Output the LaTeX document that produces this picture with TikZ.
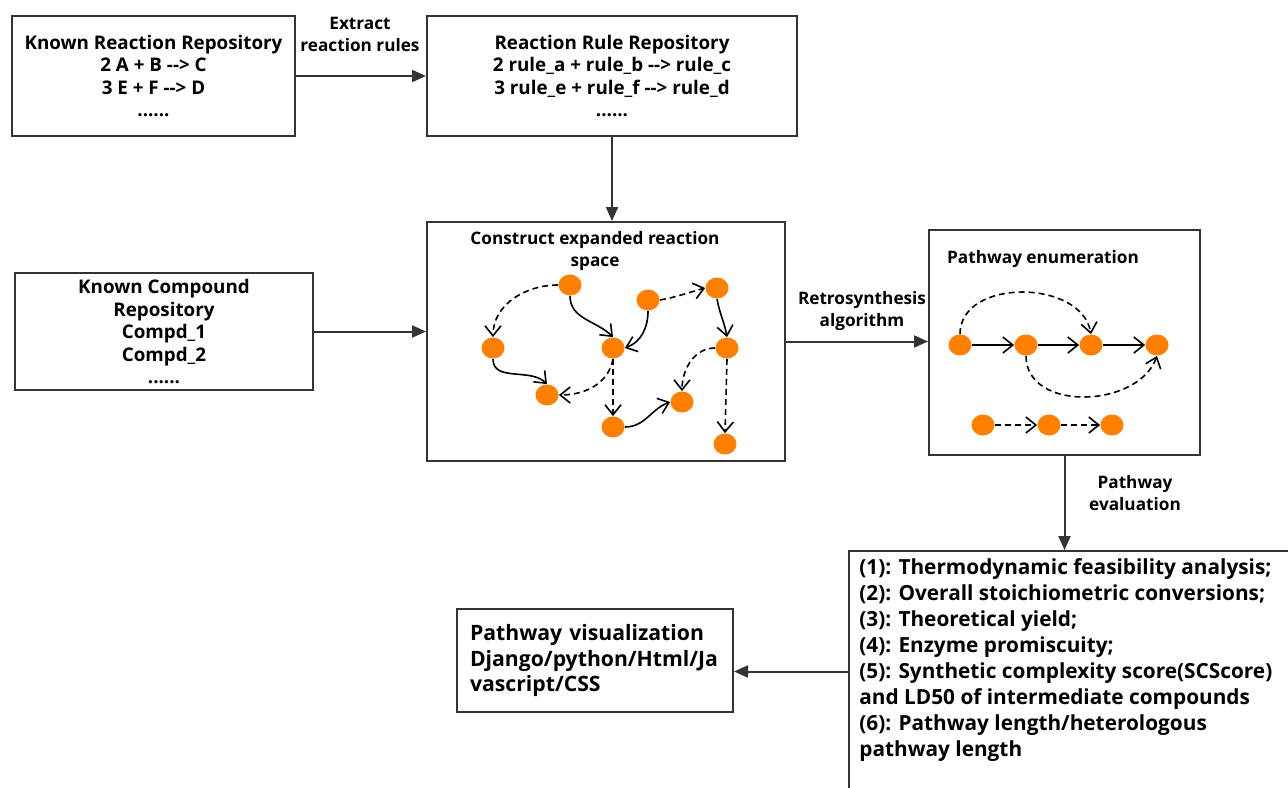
\documentclass[tikz,border=0pt]{standalone}
\usepackage{fontspec}
\setmainfont{Open Sans}
\usepackage{tikz}
\usetikzlibrary{arrows.meta,shapes.geometric}

\definecolor{dotorange}{HTML}{FF8000}
\definecolor{linegray}{HTML}{333333}

\tikzset{
	box/.style={draw=linegray, line width=1pt, rectangle, align=center, font=\fontsize{9.4}{11.25}\selectfont\bfseries},
	lbl/.style={align=center, font=\fontsize{8.6}{11}\selectfont\bfseries},
	flow/.style={draw=linegray, line width=1pt, -{Triangle[length=7pt,width=6pt]}},
	dot/.style={ellipse, fill=dotorange, minimum width=11.5pt, minimum height=10.5pt, inner sep=0pt},
	rxn/.style={line width=0.8pt, -{Straight Barb[length=5pt,width=8pt]}},
	dashrxn/.style={rxn, dash pattern=on 3pt off 2pt}
}

\begin{document}
\begin{tikzpicture}[x=0.5pt, y=-0.5pt]
	\useasboundingbox (0,0) rectangle (1288,787);

	% Repositories
	\node (known rxn) [box, minimum width=141.5pt, minimum height=60pt] at (153.5,76) {Known Reaction Repository\\2 A + B -{}-> C\\3 E + F -{}-> D\\......};
	\node (rule repo) [box, minimum width=185pt, minimum height=60pt] at (612,76) {Reaction Rule Repository\\2 rule\_a + rule\_b -{}-> rule\_c\\3 rule\_e + rule\_f -{}-> rule\_d\\......};
	\node (known cpd) [box, minimum width=149pt, minimum height=58.5pt] at (164,331.5) {Known Compound\\Repository\\Compd\_1\\Compd\_2\\......};

	% Expanded reaction space
	\node (space) [box, minimum width=179pt, minimum height=119.5pt] at (606,341.5) {};
	\node (space title) [lbl] at (595,251) {Construct expanded reaction\\space};

	% Pathway enumeration
	\node (enum) [box, minimum width=135.5pt, minimum height=112.5pt] at (1064.5,342.5) {};
	\node (enum title) [lbl] at (1043,259) {Pathway enumeration};

	% Evaluation and visualization
	\node (eval) [box, anchor=north west, minimum width=231pt, minimum height=125pt] at (848,550) {};
	\node (eval text) [anchor=north west, align=left, inner sep=0pt, font=\fontsize{10.4}{13}\selectfont\bfseries] at (859,558) {(1): Thermodynamic feasibility analysis;\\(2): Overall stoichiometric conversions;\\(3): Theoretical yield;\\(4): Enzyme promiscuity;\\(5): Synthetic complexity score(SCScore)\\and LD50 of intermediate compounds\\(6): Pathway length/heterologous\\pathway length};
	\node (vis) [box, minimum width=138pt, minimum height=51.5pt, text width=125pt, inner xsep=6.5pt, align=left, font=\fontsize{10.6}{12.8}\selectfont\bfseries] at (595,660.5) {Pathway visualization\\Django/python/Html/Ja\\vascript/CSS};

	% Main flow
	\draw[flow] (known rxn) -- (rule repo);
	\draw[flow] (rule repo.south) -- (rule repo.south |- space.north);
	\draw[flow] (known cpd.east) -- (known cpd.east -| space.west);
	\draw[flow] (space.east) -- (space.east -| enum.west);
	\draw[flow] (enum.south) -- (enum.south |- eval.north);
	\coordinate (vis in) at ([yshift=-5.5pt]vis.east);
	\draw[flow] (vis in -| eval.north west) -- (vis in);

	% Flow labels
	\node (extract lbl) [lbl] at (360,34) {Extract\\reaction rules};
	\node (retro lbl) [lbl] at (862,311) {Retrosynthesis\\algorithm};
	\node (eval lbl) [lbl] at (1135,493) {Pathway\\evaluation};

	% Reaction network
	\foreach \name/\x/\y in {s1/570/285, s2/493/348, s3/613/348, s4/547/395, s5/613/427,
		s6/648/300, s7/717/288, s8/727/348, s9/682/402, s10/725/444}
		\node[dot] (\name) at (\x,\y) {};
	\draw[dashrxn] (s1.west) to[out=180,in=90] (s2.north);
	\draw[rxn] (s1.south) to[out=-90,in=135] (s3.north);
	\draw[rxn] (s2.south) to[out=-90,in=135] (s4.north);
	\draw[dashrxn] (s3.south) to[out=-100,in=0] (s4.east);
	\draw[dashrxn] (s3.south) -- (s5.north);
	\draw[rxn] (s6.south) to[out=-90,in=20] (s3.east);
	\draw[dashrxn] (s6.east) to[out=10,in=195] (s7.west);
	\draw[rxn] (s7.south) to[out=-80,in=100] (s8.north);
	\draw[dashrxn] (s8.west) to[out=180,in=90] (s9.north);
	\draw[dashrxn] (s8.south) -- (s10.north);
	\draw[rxn] (s5.east) to[out=0,in=200] (s9.west);

	% Enumerated pathways
	\foreach \name/\x in {p1/960, p2/1026, p3/1091, p4/1157}
		\node[dot] (\name) at (\x,345) {};
	\foreach \name/\x in {q1/983, q2/1049, q3/1112}
		\node[dot] (\name) at (\x,425) {};
	\draw[rxn] (p1) -- (p2);
	\draw[rxn] (p2) -- (p3);
	\draw[rxn] (p3) -- (p4);
	\draw[dashrxn] (p1.north) to[out=90,in=100,looseness=1.1] (p3.north);
	\draw[dashrxn] (p2.south) to[out=-90,in=-110,looseness=1.1] (p4.south);
	\draw[dashrxn] (q1) -- (q2);
	\draw[dashrxn] (q2) -- (q3);
\end{tikzpicture}
\end{document}
